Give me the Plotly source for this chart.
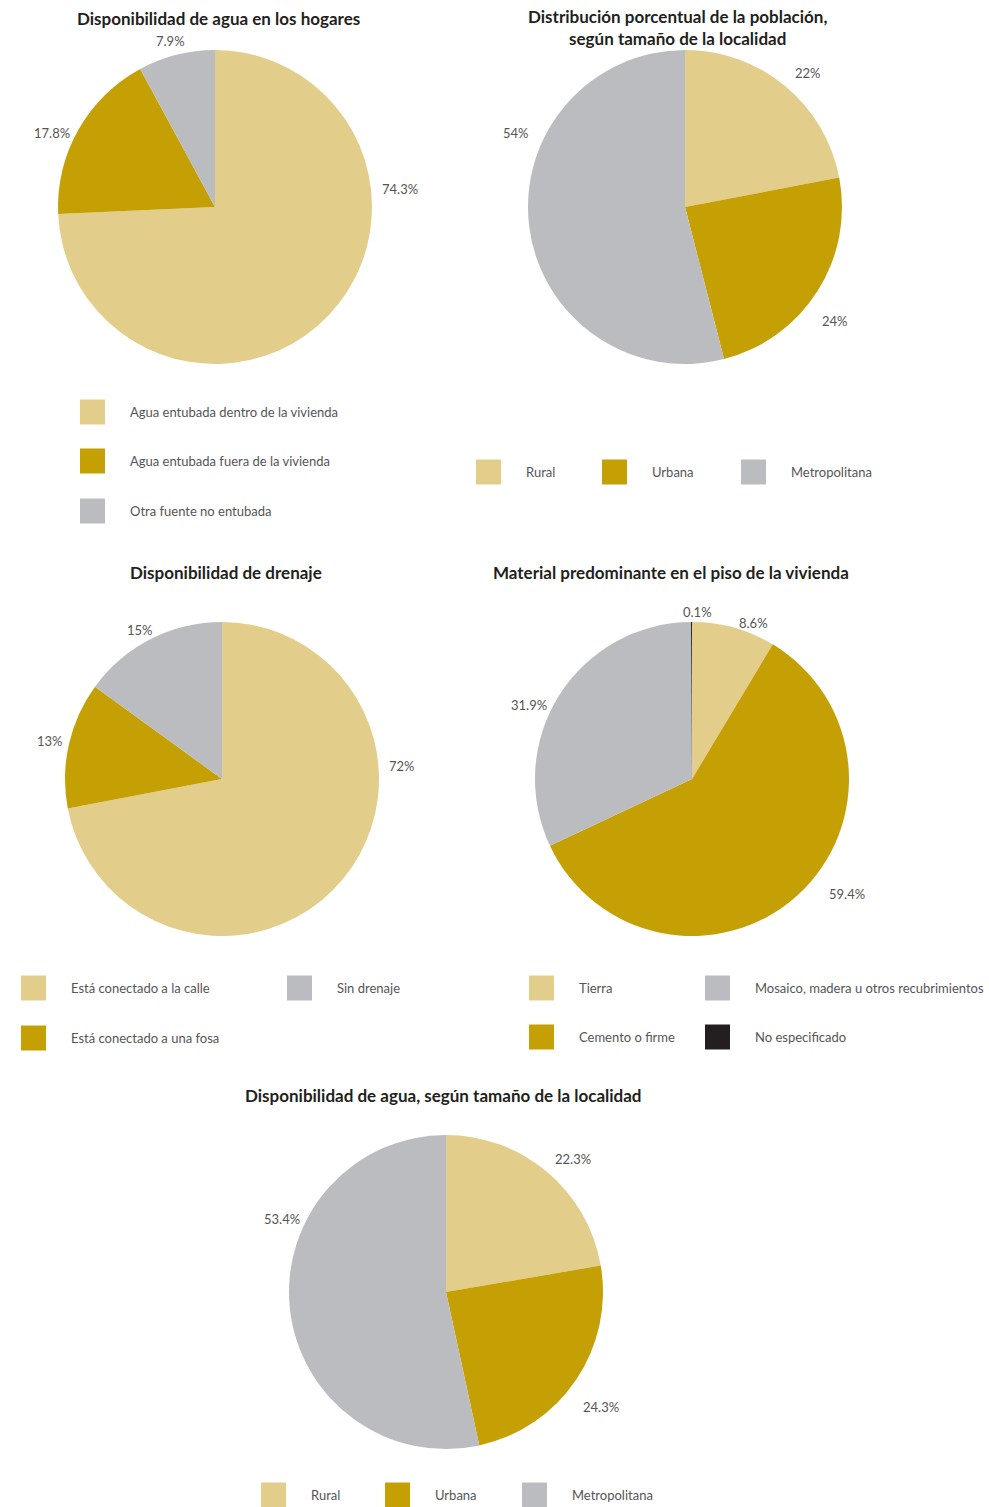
import plotly.graph_objects as go

W, H = 989, 1507

# ---- data ----
agua_labels = ["Agua entubada dentro de la vivienda", "Agua entubada fuera de la vivienda", "Otra fuente no entubada"]
agua_values = [74.3, 17.8, 7.9]

pob_labels = ["Rural", "Urbana", "Metropolitana"]
pob_values = [22, 24, 54]

dren_labels = ["Está conectado a la calle", "Está conectado a una fosa", "Sin drenaje"]
dren_values = [72, 13, 15]

piso_labels = ["Tierra", "Cemento o firme", "Mosaico, madera u otros recubrimientos", "No especificado"]
piso_values = [8.6, 59.4, 31.9, 0.1]

agualoc_labels = ["Rural", "Urbana", "Metropolitana"]
agualoc_values = [22.3, 24.3, 53.4]

titles = [
    "Disponibilidad de agua en los hogares",
    "Distribución porcentual de la población,<br>según tamaño de la localidad",
    "Disponibilidad de drenaje",
    "Material predominante en el piso de la vivienda",
    "Disponibilidad de agua, según tamaño de la localidad",
]

# ---- style ----
C_LIGHT, C_GOLD, C_GRAY, C_BLACK = "#E3CD8A", "#C5A005", "#BBBCBF", "#231F20"
colors3 = [C_LIGHT, C_GOLD, C_GRAY]
colors4 = [C_LIGHT, C_GOLD, C_GRAY, C_BLACK]
FONT = "Lato, 'Open Sans', sans-serif"
TXT = "#555555"

fig = go.Figure()

pies = [
    dict(labels=agua_labels, values=agua_values, colors=colors3, c=(215, 207), r=157, fmt="{:.1f}%",
         title_xy=(218, 18), label_xy=[(400, 189), (52, 133), (170, 41)]),
    dict(labels=pob_labels, values=pob_values, colors=colors3, c=(685, 207), r=157, fmt="{:.0f}%",
         title_xy=(677, 28), label_xy=[(808, 73), (835, 321), (516, 133)]),
    dict(labels=dren_labels, values=dren_values, colors=colors3, c=(222, 779), r=157, fmt="{:.0f}%",
         title_xy=(226, 572), label_xy=[(402, 766), (50, 741), (140, 630)]),
    dict(labels=piso_labels, values=piso_values, colors=colors4, c=(692, 779), r=157, fmt="{:.1f}%",
         title_xy=(671, 572), label_xy=[(753, 623), (847, 894), (529, 705), (697, 612)]),
    dict(labels=agualoc_labels, values=agualoc_values, colors=colors3, c=(446, 1292), r=157, fmt="{:.1f}%",
         title_xy=(443, 1095), label_xy=[(573, 1159), (601, 1407), (282, 1219)]),
]

annotations = []
shapes = []

for i, p in enumerate(pies):
    cx, cy = p["c"]
    r = p["r"]
    fig.add_trace(go.Pie(
        labels=p["labels"], values=p["values"],
        marker=dict(colors=p["colors"], line=dict(width=0)),
        sort=False, direction="clockwise", rotation=0,
        textinfo="none", hoverinfo="label+percent",
        showlegend=False,
        domain=dict(x=[(cx - r) / W, (cx + r) / W], y=[1 - (cy + r) / H, 1 - (cy - r) / H]),
    ))
    tx, ty = p["title_xy"]
    annotations.append(dict(text="<b>" + titles[i] + "</b>", x=tx / W, y=1 - ty / H,
                            xref="paper", yref="paper", showarrow=False,
                            font=dict(family=FONT, size=17, color="#231F20"),
                            xanchor="center", yanchor="middle"))
    for v, (lx, ly) in zip(p["values"], p["label_xy"]):
        annotations.append(dict(text=p["fmt"].format(v), x=lx / W, y=1 - ly / H,
                                xref="paper", yref="paper", showarrow=False,
                                font=dict(family=FONT, size=13, color=TXT),
                                xanchor="center", yanchor="middle"))

# ---- custom legends (square swatch + text) ----
legend_layout = [
    (agua_labels, colors3, [(80, 412), (80, 461), (80, 511)]),
    (pob_labels, colors3, [(476, 472), (602, 472), (741, 472)]),
    (dren_labels, colors3, [(21, 988), (21, 1038), (287, 988)]),
    (piso_labels, colors4, [(529, 988), (529, 1037), (705, 988), (705, 1037)]),
    (agualoc_labels, colors3, [(261, 1495), (385, 1495), (522, 1495)]),
]
SQ = 25
for labels, cols, pos in legend_layout:
    for lab, col, (sx, sy) in zip(labels, cols, pos):
        shapes.append(dict(type="rect", xref="paper", yref="paper",
                           x0=sx / W, x1=(sx + SQ) / W,
                           y0=1 - (sy + SQ / 2) / H, y1=1 - (sy - SQ / 2) / H,
                           fillcolor=col, line=dict(width=0)))
        annotations.append(dict(text=lab, x=(sx + SQ + 23) / W, y=1 - sy / H,
                                xref="paper", yref="paper", showarrow=False,
                                font=dict(family=FONT, size=13, color=TXT),
                                xanchor="left", yanchor="middle"))

fig.update_layout(
    width=W, height=H,
    margin=dict(l=0, r=0, t=0, b=0),
    paper_bgcolor="white", plot_bgcolor="white",
    annotations=annotations, shapes=shapes,
    font=dict(family=FONT),
)

fig.write_html("out.html", config={"displayModeBar": False},
               post_script="document.body.style.margin='0';document.body.style.overflow='hidden';")
